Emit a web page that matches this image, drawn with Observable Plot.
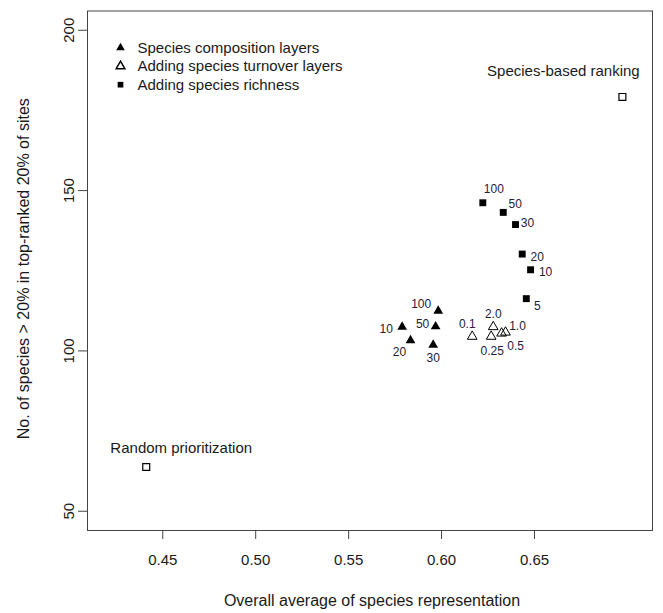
<!DOCTYPE html>
<html>
<head>
<meta charset="utf-8">
<script src="https://cdn.jsdelivr.net/npm/d3@7"></script>
<script src="https://cdn.jsdelivr.net/npm/@observablehq/plot@0.6"></script>
<style>
  html, body { margin: 0; padding: 0; background: #fff; }
  #chart svg { display: block; }
</style>
</head>
<body>
<div id="chart"></div>
<script>
// ---- data ----
const compLabels = ["10", "20", "30", "50", "100"];
const compX = [0.5788, 0.5833, 0.5955, 0.5968, 0.5982];
const compY = [107.5, 103.3, 101.9, 107.6, 112.5];

const turnLabels = ["0.1", "0.25", "0.5", "1.0", "2.0"];
const turnX = [0.6165, 0.6267, 0.6323, 0.6344, 0.6278];
const turnY = [104.5, 104.5, 105.5, 105.8, 107.5];

const richLabels = ["5", "10", "20", "30", "50", "100"];
const richX = [0.6456, 0.6479, 0.6434, 0.6398, 0.6332, 0.6222];
const richY = [116.3, 125.3, 130.2, 139.4, 143.2, 146.2];

const refLabels = ["Random prioritization", "Species-based ranking"];
const refX = [0.4411, 0.6973];
const refY = [63.8, 179.2];

const xTicks = [0.45, 0.50, 0.55, 0.60, 0.65];
const yTicks = [50, 100, 150, 200];

const legendLabels = ["Species composition layers", "Adding species turnover layers", "Adding species richness"];
const xTitle = "Overall average of species representation";
const yTitle = "No. of species > 20% in top-ranked 20% of sites";

// ---- layout (label offsets in pixels) ----
const compOff = [[-16, 2], [-11, 12], [0, 13], [-13, -2], [-17, -7]];
const turnOff = [[-5, -12], [1, 15], [14, 12.5], [12, -6], [0, -13]];
const richOff = [[11, 8], [15, 2], [15, 3], [12, -1], [12, -8], [11, -14]];
const refOff = [[35, -19], [-59, -26]];

const xDomain = [0.4095, 0.7135];
const yDomain = [44, 206];
const ink = "#1a1a1a";
const labelInk = "#22223a";
const lineCol = "#444";

function rows(xs, ys, labels) {
  return xs.map((x, i) => ({x, y: ys[i], label: labels[i]}));
}
const comp = rows(compX, compY, compLabels);
const turn = rows(turnX, turnY, turnLabels);
const rich = rows(richX, richY, richLabels);
const refs = rows(refX, refY, refLabels);

function pointLabels(data, offs, size, color) {
  return data.map((d, i) => Plot.text([d], {
    x: "x", y: "y", text: "label",
    dx: offs[i][0], dy: offs[i][1],
    textAnchor: "middle", lineAnchor: "middle",
    fontSize: size, fill: color
  }));
}

const legendSymbols = [
  {symbol: "triangle", fill: "black", stroke: "none"},
  {symbol: "triangle", fill: "white", stroke: "black"},
  {symbol: "square", fill: "black", stroke: "none"}
];
const legendRowY = (i) => 36.7 + i * 18.5;

const chart = Plot.plot({
  width: 663,
  height: 613,
  marginLeft: 87,
  marginRight: 11,
  marginTop: 10.5,
  marginBottom: 83,
  style: {fontFamily: "'Liberation Sans', Arial, sans-serif", fontSize: "15px", background: "white", color: ink},
  x: {domain: xDomain},
  y: {domain: yDomain},
  marks: [
    Plot.frame({stroke: lineCol}),
    // axis ticks
    Plot.axisX({ticks: xTicks, tickSize: 9, tickFormat: () => "", label: null, stroke: lineCol}),
    Plot.axisY({ticks: yTicks, tickSize: 9, tickFormat: () => "", label: null, stroke: lineCol}),
    Plot.text(xTicks, {x: d => d, text: d => d.toFixed(2), frameAnchor: "bottom", dy: 30, lineAnchor: "middle", textAnchor: "middle", fontSize: 15, fill: ink}),
    Plot.text(yTicks, {y: d => d, text: d => String(d), frameAnchor: "left", dx: -18, rotate: -90, textAnchor: "middle", lineAnchor: "middle", fontSize: 15, fill: ink}),
    Plot.text([xTitle], {frameAnchor: "bottom", dy: 70, dx: 2, lineAnchor: "middle", textAnchor: "middle", fontSize: 16, fill: ink}),
    Plot.text([yTitle], {frameAnchor: "left", dx: -64, dy: -2, rotate: -90, textAnchor: "middle", lineAnchor: "middle", fontSize: 16, fill: ink}),
    // points
    Plot.dot(comp, {x: "x", y: "y", symbol: "triangle", r: 3.6, fill: "black", stroke: "none"}),
    Plot.dot(turn, {x: "x", y: "y", symbol: "triangle", r: 3.6, fill: "none", stroke: "black", strokeWidth: 1}),
    Plot.dot(rich, {x: "x", y: "y", symbol: "square", r: 3.9, fill: "black", stroke: "none"}),
    Plot.dot(refs, {x: "x", y: "y", symbol: "square", r: 3.9, fill: "none", stroke: "black", strokeWidth: 1.2}),
    ...pointLabels(comp, compOff, 12, labelInk),
    ...pointLabels(turn, turnOff, 12, labelInk),
    ...pointLabels(rich, richOff, 12, labelInk),
    ...pointLabels(refs, refOff, 15, ink),
    // legend
    ...legendLabels.map((t, i) => Plot.dot([t], {
      frameAnchor: "top-left", dx: 33, dy: legendRowY(i),
      symbol: legendSymbols[i].symbol, r: 3.2,
      fill: legendSymbols[i].fill, stroke: legendSymbols[i].stroke
    })),
    ...legendLabels.map((t, i) => Plot.text([t], {
      frameAnchor: "top-left", dx: 50, dy: legendRowY(i),
      text: d => d, textAnchor: "start", lineAnchor: "middle", fontSize: 15, fill: ink
    }))
  ]
});
document.getElementById("chart").appendChild(chart);
</script>
</body>
</html>
